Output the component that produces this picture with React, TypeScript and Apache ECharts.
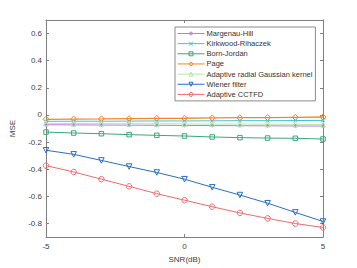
import React, { useEffect, useRef } from "react";
import * as echarts from "echarts";

const snr = [-5, -4, -3, -2, -1, 0, 1, 2, 3, 4, 5];
const yTicks = [-0.8, -0.6, -0.4, -0.2, 0, 0.2, 0.4, 0.6];
const xTicks = [-5, 0, 5];

const margenauHill = [-0.072, -0.073, -0.074, -0.075, -0.076, -0.077, -0.078, -0.079, -0.08, -0.081, -0.082];
const kirkwood = [-0.047, -0.046, -0.046, -0.045, -0.044, -0.044, -0.043, -0.042, -0.042, -0.041, -0.04];
const bornJordan = [-0.126, -0.133, -0.138, -0.145, -0.15, -0.155, -0.162, -0.167, -0.17, -0.172, -0.177];
const page = [-0.032, -0.03, -0.029, -0.027, -0.025, -0.024, -0.022, -0.02, -0.019, -0.017, -0.015];
const adaptiveRadial = [-0.062, -0.063, -0.064, -0.064, -0.065, -0.066, -0.067, -0.067, -0.068, -0.069, -0.07];
const wiener = [-0.26, -0.29, -0.335, -0.38, -0.424, -0.473, -0.533, -0.59, -0.65, -0.718, -0.785];
const cctfd = [-0.373, -0.42, -0.473, -0.526, -0.58, -0.628, -0.676, -0.722, -0.762, -0.8, -0.829];

const seriesNames = [
  "Margenau-Hill",
  "Kirkwood-Rihaczek",
  "Born-Jordan",
  "Page",
  "Adaptive radial Gaussian kernel",
  "Wiener filter",
  "Adaptive CCTFD",
];

const AXIS = "#808080";
const TEXT = "#404040";

export default function App() {
  const ref = useRef<HTMLDivElement>(null);
  useEffect(() => {
    if (!ref.current) return;
    const chart = echarts.init(ref.current, null, { renderer: "svg" });
    const asterisk = "path://M5,0L5,10M0,5L10,5M1.5,1.5L8.5,8.5M8.5,1.5L1.5,8.5";
    const cross = "path://M0,0L10,10M10,0L0,10";
    const mk = (
      name: string,
      data: number[],
      color: string,
      symbol: string,
      size: number,
      rotate = 0,
      width = 1
    ) => ({
      name,
      type: "line",
      data: snr.map((x, i) => [x, data[i]]),
      symbol,
      symbolSize: size,
      symbolRotate: rotate,
      showSymbol: true,
      lineStyle: { color, width },
      itemStyle: { color: "transparent", borderColor: color, borderWidth: 1 },
      emphasis: { disabled: true },
    });
    chart.setOption({
      animation: false,
      grid: { left: 46, right: 34, top: 20, bottom: 30 },
      legend: {
        orient: "vertical",
        left: 175,
        top: 27,
        data: seriesNames,
        backgroundColor: "#ffffff",
        borderColor: "#8a8a8a",
        borderWidth: 1,
        borderRadius: 0,
        padding: [1.5, 3, 1.5, 2],
        itemGap: 0.15,
        itemWidth: 27,
        itemHeight: 5,
        itemStyle: { color: "transparent", borderWidth: 1 },
        lineStyle: { width: 1 },
        textStyle: { fontSize: 7.5, color: "#333", lineHeight: 10, fontFamily: "Liberation Sans", padding: [0, 0, 0, -3] },
      },
      xAxis: [
        {
          type: "value",
          min: -5,
          max: 5,
          interval: 5,
          name: "SNR(dB)",
          nameLocation: "middle",
          nameGap: 15,
          nameTextStyle: { fontSize: 8, color: TEXT, fontFamily: "Liberation Sans" },
          axisLine: { onZero: false, lineStyle: { color: AXIS, width: 1 } },
          axisTick: { inside: true, length: 3, lineStyle: { color: AXIS } },
          axisLabel: { fontSize: 8, color: TEXT, margin: 5, fontFamily: "Liberation Sans" },
          splitLine: { show: false },
        },
        {
          type: "value",
          position: "top",
          min: -5,
          max: 5,
          interval: 5,
          axisLine: { onZero: false, lineStyle: { color: AXIS, width: 1 } },
          axisTick: { inside: true, length: 3, lineStyle: { color: AXIS } },
          axisLabel: { show: false },
          splitLine: { show: false },
        },
      ],
      yAxis: [
        {
          type: "value",
          min: -0.9,
          max: 0.7,
          name: "MSE",
          nameLocation: "middle",
          nameGap: 30,
          nameTextStyle: { fontSize: 8, color: TEXT, fontFamily: "Liberation Sans" },
          axisLine: { onZero: false, lineStyle: { color: AXIS, width: 1 } },
          axisTick: { inside: true, length: 3, customValues: yTicks, lineStyle: { color: AXIS } },
          axisLabel: {
            fontSize: 8,
            color: TEXT,
            margin: 4,
            customValues: yTicks,
            fontFamily: "Liberation Sans",
            formatter: (v: number) => String(Math.round(v * 10) / 10),
          },
          splitLine: { show: false },
        },
        {
          type: "value",
          position: "right",
          min: -0.9,
          max: 0.7,
          axisLine: { onZero: false, lineStyle: { color: AXIS, width: 1 } },
          axisTick: { inside: true, length: 3, customValues: yTicks, lineStyle: { color: AXIS } },
          axisLabel: { show: false },
          splitLine: { show: false },
        },
      ],
      series: [
        mk(seriesNames[0], margenauHill, "#b07ee8", asterisk, 4),
        mk(seriesNames[1], kirkwood, "#3cc8cf", cross, 3.5),
        mk(seriesNames[2], bornJordan, "#3aa87a", "rect", 4.5),
        mk(seriesNames[3], page, "#f4862a", "diamond", 6, 0, 1.3),
        mk(seriesNames[4], adaptiveRadial, "#b8e6a8", "triangle", 5),
        mk(seriesNames[5], wiener, "#2a6fbf", "triangle", 5.5, 180),
        mk(seriesNames[6], cctfd, "#f26a6a", "circle", 5.5),
      ],
    });
    return () => chart.dispose();
  }, []);
  return <div ref={ref} style={{ position: "absolute", left: 0, top: 0, width: 357, height: 268 }} />;
}
